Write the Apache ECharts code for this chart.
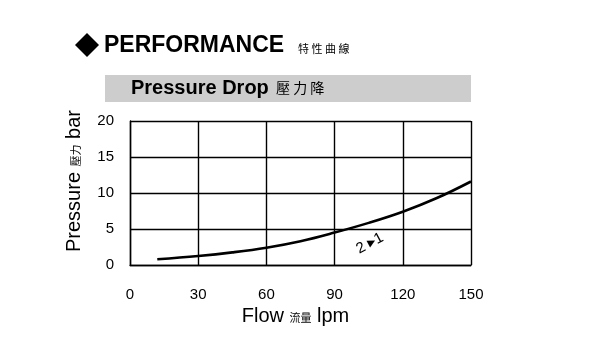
<!DOCTYPE html>
<html>
<head>
<meta charset="utf-8">
<script src="https://cdn.jsdelivr.net/npm/echarts@6/dist/echarts.min.js"></script>
<style>
  html, body { margin: 0; padding: 0; background: #fff; }
  #chart { width: 600px; height: 350px; }
</style>
</head>
<body>
<div id="chart"></div>
<script>
// Pressure drop curve: flow (lpm) vs. pressure (bar)
const flowLpm = [12, 30, 45, 60, 75, 90, 105, 120, 135, 150];
const pressureBar = [0.8, 1.25, 1.75, 2.4, 3.3, 4.5, 5.85, 7.4, 9.3, 11.6];
const flowTicks = [0, 30, 60, 90, 120, 150];
const pressureTicks = [0, 5, 10, 15, 20];
const curveLabel = '{n|2 }{t|\u25B6}{n|1}';
const curveLabelAt = [105.5, 3.0];

const FONT = '"Liberation Sans", Arial, sans-serif';
const CJK = '"Noto Sans CJK TC", sans-serif';

const chart = echarts.init(document.getElementById('chart'), null, { renderer: 'canvas' });

const gridLine = { show: true, lineStyle: { color: '#000', width: 1.4 } };
const nameRich = {
  a: { fontSize: 20, fontFamily: FONT, color: '#000' },
  c: { fontSize: 11, fontFamily: CJK, color: '#000', padding: [4, 0, 0, 0] }
};

chart.setOption({
  backgroundColor: '#fff',
  animation: false,
  grid: { left: 130, right: 129, top: 121, bottom: 85 },
  xAxis: {
    type: 'value',
    min: flowTicks[0],
    max: flowTicks[flowTicks.length - 1],
    interval: flowTicks[1] - flowTicks[0],
    axisLine: { show: true, lineStyle: { color: '#000', width: 1.4 } },
    axisTick: { show: false },
    splitLine: gridLine,
    axisLabel: { color: '#000', fontSize: 15, fontFamily: FONT, margin: 22 },
    name: '{a|Flow }{c|流量}{a| lpm}',
    nameLocation: 'middle',
    nameGap: 41,
    nameTextStyle: { padding: [0, 10, 0, 0], rich: nameRich }
  },
  yAxis: {
    type: 'value',
    min: pressureTicks[0],
    max: pressureTicks[pressureTicks.length - 1],
    interval: pressureTicks[1] - pressureTicks[0],
    axisLine: { show: true, lineStyle: { color: '#000', width: 1.4 } },
    axisTick: { show: false },
    splitLine: gridLine,
    axisLabel: { color: '#000', fontSize: 15, fontFamily: FONT, margin: 16 },
    name: '{a|Pressure }{c|壓力}{a| bar}',
    nameLocation: 'middle',
    nameGap: 46,
    nameTextStyle: { padding: [0, 0, 0, 24], rich: nameRich }
  },
  graphic: [
    {
      type: 'polygon',
      shape: { points: [[75, 45], [87, 33], [99, 45], [87, 57]] },
      style: { fill: '#000' }
    },
    {
      type: 'text', left: 104, top: 34,
      style: { text: 'PERFORMANCE', font: 'bold 23px ' + FONT, fill: '#000' }
    },
    {
      type: 'text', left: 298, top: 43,
      style: { text: '特 性 曲 線', font: '11px ' + CJK, fill: '#000' }
    },
    {
      type: 'rect', shape: { x: 105, y: 75, width: 366, height: 27 },
      style: { fill: '#cdcdcd' }
    },
    {
      type: 'text', left: 131, top: 78,
      style: { text: 'Pressure Drop', font: 'bold 20px ' + FONT, fill: '#000' }
    },
    {
      type: 'text', left: 276, top: 81,
      style: { text: '壓 力 降', font: '14px ' + CJK, fill: '#000' }
    }
  ],
  series: [{
    type: 'line',
    data: flowLpm.map((f, i) => [f, pressureBar[i]]),
    smooth: 0.4,
    symbol: 'none',
    lineStyle: { color: '#000', width: 2.6 },
    markPoint: {
      symbol: 'circle',
      symbolSize: 1,
      itemStyle: { color: 'rgba(0,0,0,0)' },
      data: [{ coord: curveLabelAt }],
      label: {
        show: true,
        position: 'inside',
        formatter: curveLabel,
        rotate: 28,
        rich: {
          n: { fontSize: 15, fontFamily: FONT, color: '#000' },
          t: { fontSize: 10, fontFamily: '"DejaVu Sans", sans-serif', color: '#000' }
        }
      }
    }
  }]
});
</script>
</body>
</html>
